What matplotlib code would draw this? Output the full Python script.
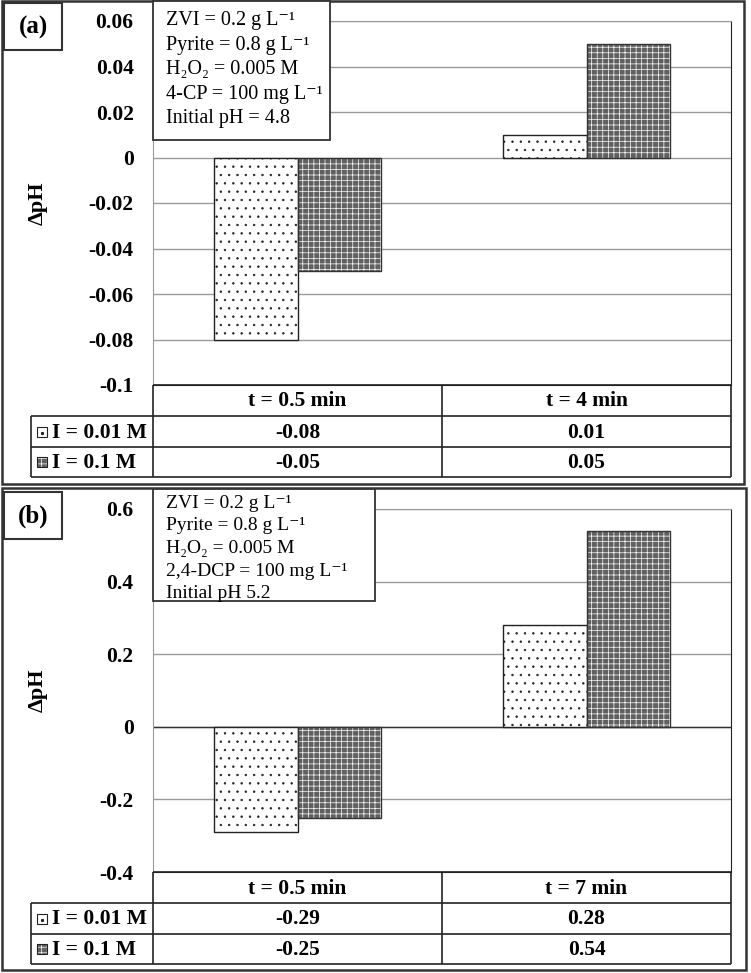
import numpy as np
import matplotlib
matplotlib.use("Agg")
import matplotlib.pyplot as plt
from matplotlib.patches import Rectangle
from matplotlib import transforms

plt.rcParams["font.family"] = ["Liberation Serif", "DejaVu Serif"]
plt.rcParams["hatch.linewidth"] = 0.5

# ---- data ----
series_names = ["I = 0.01 M", "I = 0.1 M"]

cats_a = ["t = 0.5 min", "t = 4 min"]
low_a = [-0.08, 0.01]
high_a = [-0.05, 0.05]
ticks_a = [-0.1, -0.08, -0.06, -0.04, -0.02, 0, 0.02, 0.04, 0.06]
tick_labels_a = ["-0.1", "-0.08", "-0.06", "-0.04", "-0.02", "0", "0.02", "0.04", "0.06"]
notes_a = ["ZVI = 0.2 g L⁻¹",
           "Pyrite = 0.8 g L⁻¹",
           "H₂O₂ = 0.005 M",
           "4-CP = 100 mg L⁻¹",
           "Initial pH = 4.8"]

cats_b = ["t = 0.5 min", "t = 7 min"]
low_b = [-0.29, 0.28]
high_b = [-0.25, 0.54]
ticks_b = [-0.4, -0.2, 0, 0.2, 0.4, 0.6]
tick_labels_b = ["-0.4", "-0.2", "0", "0.2", "0.4", "0.6"]
notes_b = ["ZVI = 0.2 g L⁻¹",
           "Pyrite = 0.8 g L⁻¹",
           "H₂O₂ = 0.005 M",
           "2,4-DCP = 100 mg L⁻¹",
           "Initial pH 5.2"]

W, H = 751, 973
fig = plt.figure(figsize=(W / 100, H / 100), dpi=100)
fig.patch.set_facecolor("white")

DARK = "#606060"
GRID = "#9a9a9a"
BAR_W = 0.288
FS = 15.5


def px_axes(x0, y0, x1, y1, **kw):
    return fig.add_axes([x0 / W, 1 - y1 / H, (x1 - x0) / W, (y1 - y0) / H], **kw)


def draw_bars(ax, x, vals, style):
    if style == "dots":
        ax.bar(x, vals, BAR_W, facecolor="white", edgecolor="#222222",
               hatch="..", linewidth=1.0, zorder=3)
    else:
        ax.bar(x, vals, BAR_W, facecolor=DARK, edgecolor="white",
               hatch="+++", linewidth=0, zorder=3)
        ax.bar(x, vals, BAR_W, fill=False, edgecolor="#333333",
               linewidth=1.0, zorder=4)


def panel(top, bottom, cats, low, high, ticks, tlabels, zero_dark):
    ax = px_axes(153, top, 731, bottom)
    x = np.arange(len(cats))
    draw_bars(ax, x - BAR_W / 2, low, "dots")
    draw_bars(ax, x + BAR_W / 2, high, "cross")
    ax.set_xlim(-0.5, len(cats) - 0.5)
    ax.set_ylim(ticks[0], ticks[-1])
    ax.set_yticks(ticks)
    ax.set_yticklabels(tlabels, fontsize=FS, fontweight="bold")
    ax.set_xticks([])
    ax.tick_params(axis="y", length=0, pad=14)
    ax.grid(axis="y", color=GRID, linewidth=1.0, zorder=0)
    ax.set_axisbelow(True)
    if zero_dark:
        ax.axhline(0, color="#333333", linewidth=1.0, zorder=2)
    for s in ("left", "top"):
        ax.spines[s].set_color(GRID)
    for s in ("right", "bottom"):
        ax.spines[s].set_color("#222222")
    return ax


ax_a = panel(21, 385, cats_a, low_a, high_a, ticks_a, tick_labels_a, False)
ax_b = panel(509, 872, cats_b, low_b, high_b, ticks_b, tick_labels_b, True)

# overlay in pixel coordinates for borders, table and notes
ov = px_axes(0, 0, W, H)
ov.set_xlim(0, W)
ov.set_ylim(H, 0)
ov.axis("off")
ov.patch.set_alpha(0)

LINE = "#222222"


def hline(y, x0, x1, lw=1.2, c=LINE):
    ov.plot([x0, x1], [y, y], color=c, linewidth=lw, solid_capstyle="butt")


def vline(x, y0, y1, lw=1.2, c=LINE):
    ov.plot([x, x], [y0, y1], color=c, linewidth=lw, solid_capstyle="butt")


def table(ax, y_top, cats, low, high):
    rows = [y_top, y_top + 31, y_top + 62, y_top + 92]
    hline(rows[0], 153, 731)
    for r in rows[1:]:
        hline(r, 31, 731)
    vline(153, rows[0], rows[3])
    vline(442, rows[0], rows[3])
    vline(731, rows[0], rows[3])
    vline(31, rows[1], rows[3])
    tr = transforms.blended_transform_factory(ax.transData, ov.transData)
    for i, c in enumerate(cats):
        ov.text(i, (rows[0] + rows[1]) / 2 + 1, c, transform=tr, ha="center",
                va="center", fontsize=FS, fontweight="bold")
        ov.text(i, (rows[1] + rows[2]) / 2 + 1, f"{low[i]:g}", transform=tr,
                ha="center", va="center", fontsize=FS, fontweight="bold")
        ov.text(i, (rows[2] + rows[3]) / 2 + 1, f"{high[i]:g}", transform=tr,
                ha="center", va="center", fontsize=FS, fontweight="bold")
    for k, name in enumerate(series_names):
        yc = (rows[k + 1] + rows[k + 2]) / 2
        if k == 0:
            ov.add_patch(Rectangle((37, yc - 5), 10, 10, facecolor="white",
                                   edgecolor=LINE, linewidth=0.8))
            ov.plot([42], [yc + 1], marker="s", markersize=1.2, color=LINE)
        else:
            ov.add_patch(Rectangle((37, yc - 5), 10, 10, facecolor=DARK,
                                   edgecolor="white", hatch="+++", linewidth=0))
            ov.add_patch(Rectangle((37, yc - 5), 10, 10, fill=False,
                                   edgecolor=LINE, linewidth=0.8))
        ov.text(52, yc + 1, name, ha="left", va="center", fontsize=FS,
                fontweight="bold")


table(ax_a, 385, cats_a, low_a, high_a)
table(ax_b, 872, cats_b, low_b, high_b)

# outer panel frames
for (x0, y0, x1, y1) in [(2, 1, 744, 484), (2, 488, 746, 970)]:
    ov.add_patch(Rectangle((x0, y0), x1 - x0, y1 - y0, fill=False,
                           edgecolor="#333333", linewidth=1.8))

# panel letters
for (y0, lab) in [(3, "(a)"), (492, "(b)")]:
    ov.add_patch(Rectangle((4, y0), 58, 47, facecolor="white",
                           edgecolor="#333333", linewidth=1.5))
    ov.text(33, y0 + 24, lab, ha="center", va="center", fontsize=18,
            fontweight="bold")

# y labels
for yc in (203, 690):
    ov.text(38, yc, "ΔpH", rotation=90, ha="center", va="center", fontsize=16,
            fontweight="bold")

# condition boxes
ov.add_patch(Rectangle((153, 1), 177, 139, facecolor="white",
                       edgecolor="#333333", linewidth=1.3, zorder=5))
for i, s in enumerate(notes_a):
    ov.text(166, 21 + i * 24.5, s, ha="left", va="center", fontsize=14.5,
            zorder=6)

ov.add_patch(Rectangle((153, 489), 222, 112, facecolor="white",
                       edgecolor="#333333", linewidth=1.3, zorder=5))
for i, s in enumerate(notes_b):
    ov.text(166, 503 + i * 22.7, s, ha="left", va="center", fontsize=14,
            zorder=6)

fig.savefig("out.png", dpi=100)
